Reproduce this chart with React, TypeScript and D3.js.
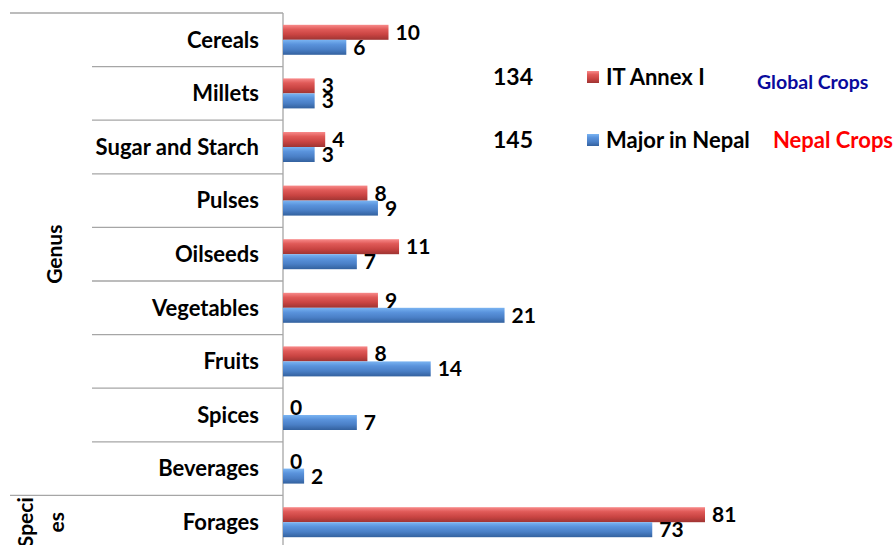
import React, { useEffect, useRef } from 'react';
import * as d3 from 'd3';

// chart data
const categories = ["Cereals", "Millets", "Sugar and Starch", "Pulses", "Oilseeds", "Vegetables", "Fruits", "Spices", "Beverages", "Forages"];
// bar lengths as drawn (the Forages bars are drawn shorter than their labels)
const annexValues = [10, 3, 4, 8, 11, 9, 8, 0, 0, 40];
const nepalValues = [6, 3, 3, 9, 7, 21, 14, 7, 2, 35];
// data labels printed next to the bars
const annexLabels = ["10", "3", "4", "8", "11", "9", "8", "0", "0", "81"];
const nepalLabels = ["6", "3", "3", "9", "7", "21", "14", "7", "2", "73"];
const groups = [
  { name: ["Genus"], from: 0, to: 8 },
  { name: ["Speci", "es"], from: 9, to: 9 },
];
const seriesNames = ["IT Annex I", "Major in Nepal"];
const seriesTotals = ["134", "145"];
const seriesNotes = ["Global Crops", "Nepal Crops"];

const FONT = "Lato, 'Open Sans', sans-serif";

export default function App() {
  const ref = useRef<SVGSVGElement | null>(null);

  useEffect(() => {
    const width = 894;
    const height = 545;
    const axisX = 283;
    const svg = d3.select(ref.current);
    svg.selectAll('*').remove();
    svg.attr("width", width).attr("height", height);

    const y = d3.scaleBand<string>()
      .domain(categories)
      .range([13, 549])
      .padding(0);

    const x = d3.scaleLinear()
      .domain([0, 40])
      .range([axisX, 705]);

    const barH = 15;

    // gradients for the shiny bars
    const defs = svg.append("defs");
    const grads = [
      { id: "gRed", stops: ["#f88a8a", "#e05a58", "#c94442", "#9e3432"] },
      { id: "gBlue", stops: ["#7ab4f2", "#5a93dc", "#4a7fc6", "#33619e"] },
    ];
    grads.forEach(g => {
      const lg = defs.append("linearGradient").attr("id", g.id)
        .attr("x1", 0).attr("y1", 0).attr("x2", 0).attr("y2", 1);
      g.stops.forEach((c, i) => {
        lg.append("stop").attr("offset", [0, 0.3, 0.65, 1][i]).attr("stop-color", c);
      });
    });

    // category axis grid lines
    const lines = svg.append("g").attr("stroke", "#a6a6a6").attr("stroke-width", 1.3);
    groups.forEach(gr => {
      const top = y(categories[gr.from]) as number;
      lines.append("line").attr("x1", 10).attr("x2", axisX).attr("y1", top).attr("y2", top);
      for (let i = gr.from + 1; i <= gr.to; i++) {
        const yy = y(categories[i]) as number;
        lines.append("line").attr("x1", 92).attr("x2", axisX).attr("y1", yy).attr("y2", yy);
      }
    });
    lines.append("line").attr("x1", axisX).attr("x2", axisX).attr("y1", 13).attr("y2", height);

    // category labels
    svg.append("g").selectAll("text").data(categories).join("text")
      .attr("x", 259)
      .attr("y", d => (y(d) as number) + y.bandwidth() / 2)
      .attr("dy", "0.35em")
      .attr("text-anchor", "end")
      .attr("font-family", FONT)
      .attr("font-weight", "bold")
      .attr("font-size", 22)
      .attr("fill", "#000")
      .text(d => d);

    // group labels, rotated
    groups.forEach(gr => {
      const top = y(categories[gr.from]) as number;
      const bot = (y(categories[gr.to]) as number) + y.bandwidth();
      const cy = (top + bot) / 2;
      const xs = gr.name.length > 1 ? [26, 57] : [55];
      gr.name.forEach((t, i) => {
        svg.append("text")
          .attr("transform", `translate(${xs[i] + 7},${cy}) rotate(-90)`)
          .attr("text-anchor", "middle")
          .attr("font-family", FONT)
          .attr("font-weight", "bold")
          .attr("font-size", 21)
          .text(t);
      });
    });

    const rows = categories.map((c, i) => ({
      c, a: annexValues[i], n: nepalValues[i], al: annexLabels[i], nl: nepalLabels[i]
    }));

    const bars = svg.append("g");
    bars.selectAll("rect.red").data(rows).join("rect")
      .attr("class", "red")
      .attr("x", x(0))
      .attr("y", d => (y(d.c) as number) + y.bandwidth() / 2 - barH)
      .attr("width", d => x(d.a) - x(0))
      .attr("height", barH)
      .attr("fill", "url(#gRed)");
    bars.selectAll("rect.blue").data(rows).join("rect")
      .attr("class", "blue")
      .attr("x", x(0))
      .attr("y", d => (y(d.c) as number) + y.bandwidth() / 2)
      .attr("width", d => x(d.n) - x(0))
      .attr("height", barH)
      .attr("fill", "url(#gBlue)");

    // value labels
    const vl = svg.append("g")
      .attr("font-family", FONT)
      .attr("font-weight", "bold")
      .attr("font-size", 21)
      .attr("fill", "#000");
    vl.selectAll("text.a").data(rows).join("text")
      .attr("class", "a")
      .attr("x", d => x(d.a) + 7)
      .attr("y", d => (y(d.c) as number) + y.bandwidth() / 2 - barH / 2)
      .attr("dy", "0.36em")
      .text(d => d.al);
    vl.selectAll("text.n").data(rows).join("text")
      .attr("class", "n")
      .attr("x", d => x(d.n) + 7)
      .attr("y", d => (y(d.c) as number) + y.bandwidth() / 2 + barH / 2)
      .attr("dy", "0.36em")
      .text(d => d.nl);

    // legend
    const legY = [77, 140];
    const legFill = ["url(#gRed)", "url(#gBlue)"];
    const noteColor = ["#0a0a9c", "#ff0000"];
    const noteSize = [19.5, 22];
    const noteX = [757, 773];
    const noteDy = [5, 0];
    seriesNames.forEach((s, i) => {
      svg.append("text").attr("x", 493).attr("y", legY[i]).attr("dy", "0.35em")
        .attr("font-family", FONT).attr("font-weight", "bold").attr("font-size", 23)
        .text(seriesTotals[i]);
      svg.append("rect").attr("x", 587).attr("y", legY[i] - 6).attr("width", 12).attr("height", 12)
        .attr("fill", legFill[i]);
      svg.append("text").attr("x", 606).attr("y", legY[i]).attr("dy", "0.35em")
        .attr("font-family", FONT).attr("font-weight", "bold").attr("font-size", 22)
        .text(s);
      svg.append("text").attr("x", noteX[i]).attr("y", legY[i] + noteDy[i]).attr("dy", "0.35em")
        .attr("font-family", FONT).attr("font-weight", "bold").attr("font-size", noteSize[i])
        .attr("fill", noteColor[i])
        .text(seriesNotes[i]);
    });
  }, []);

  return (
    <svg ref={ref} style={{ position: 'absolute', left: 0, top: 0, display: 'block', background: '#fff' }}></svg>
  );
}
